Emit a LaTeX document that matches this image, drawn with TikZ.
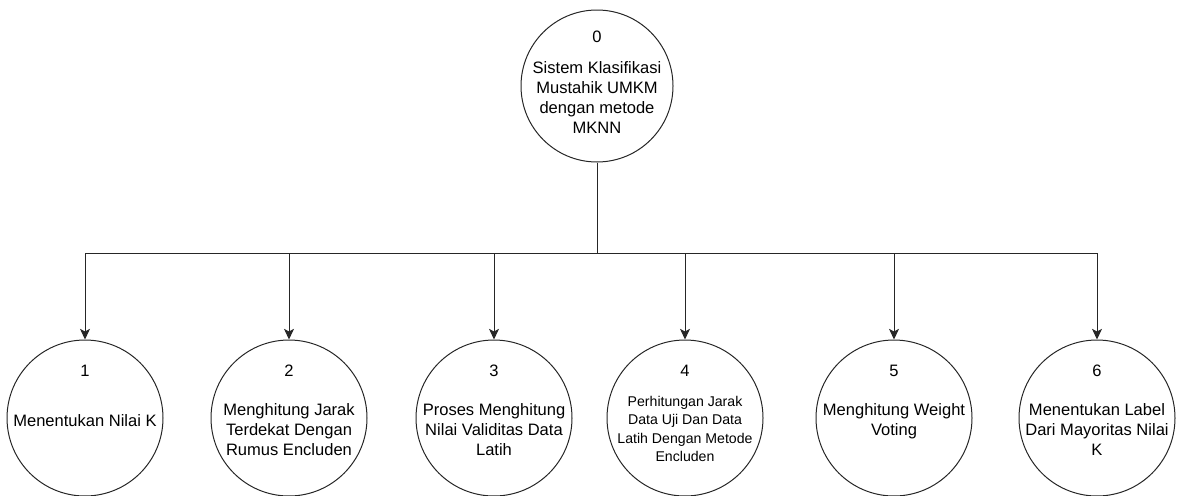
\documentclass[tikz,border=0pt]{standalone}
\usepackage{fontspec}
\setmainfont{Liberation Sans}
\usetikzlibrary{arrows.meta}
\begin{document}
\begin{tikzpicture}[x=0.75pt, y=-0.75pt, font=\fontsize{12.4}{15}\selectfont, line join=round, >={Stealth[length=8pt,width=7.5pt,inset=2pt]},
	proc/.style={draw=black!85, line width=0.75pt, circle, minimum size=117pt, inner sep=0pt},
	txt/.style={align=center, inner sep=0pt},
	small/.style={font=\fontsize{10.6}{13.7}\selectfont},
	conn/.style={draw=black!85, line width=0.75pt}]
	\useasboundingbox (0,0) rectangle (1182,496);
	% processes
	\node[proc, minimum size=114pt] (P0) at (597,86) {};
	\node[proc] (P1) at (85,418) {};
	\node[proc] (P2) at (289,418) {};
	\node[proc] (P3) at (494,418) {};
	\node[proc] (P4) at (685,418) {};
	\node[proc] (P5) at (894,418) {};
	\node[proc] (P6) at (1097,418) {};
	% numbers and names
	\node[txt] (N0) at ([shift={(0,-49)}]P0.center) {0};
	\node[txt] (T0) at ([shift={(0,12)}]P0.center) {Sistem Klasifikasi\\Mustahik UMKM\\dengan metode\\MKNN};
	\node[txt] (N1) at ([shift={(0,-47)}]P1.center) {1};
	\node[txt] (T1) at ([shift={(0,3)}]P1.center) {Menentukan Nilai K};
	\node[txt] (N2) at ([shift={(0,-47)}]P2.center) {2};
	\node[txt] (T2) at ([shift={(0,12)}]P2.center) {Menghitung Jarak\\Terdekat Dengan\\Rumus Encluden};
	\node[txt] (N3) at ([shift={(0,-47)}]P3.center) {3};
	\node[txt] (T3) at ([shift={(0,12)}]P3.center) {Proses Menghitung\\Nilai Validitas Data\\Latih};
	\node[txt] (N4) at ([shift={(0,-47)}]P4.center) {4};
	\node[txt, small] (T4) at ([shift={(0,11)}]P4.center) {Perhitungan Jarak\\Data Uji Dan Data\\Latih Dengan Metode\\Encluden};
	\node[txt] (N5) at ([shift={(0,-47)}]P5.center) {5};
	\node[txt] (T5) at ([shift={(0,3)}]P5.center) {Menghitung Weight\\Voting};
	\node[txt] (N6) at ([shift={(0,-47)}]P6.center) {6};
	\node[txt] (T6) at ([shift={(0,12)}]P6.center) {Menentukan Label\\Dari Mayoritas Nilai\\K};
	% connectors
	\coordinate (bar) at (597,253);
	\draw[conn] (P0) -- (P0 |- bar);
	\draw[conn] (P1 |- bar) -- (P6 |- bar);
	\foreach \i in {1,...,6}
		\draw[conn, ->] (P\i |- bar) -- (P\i);
\end{tikzpicture}
\end{document}
